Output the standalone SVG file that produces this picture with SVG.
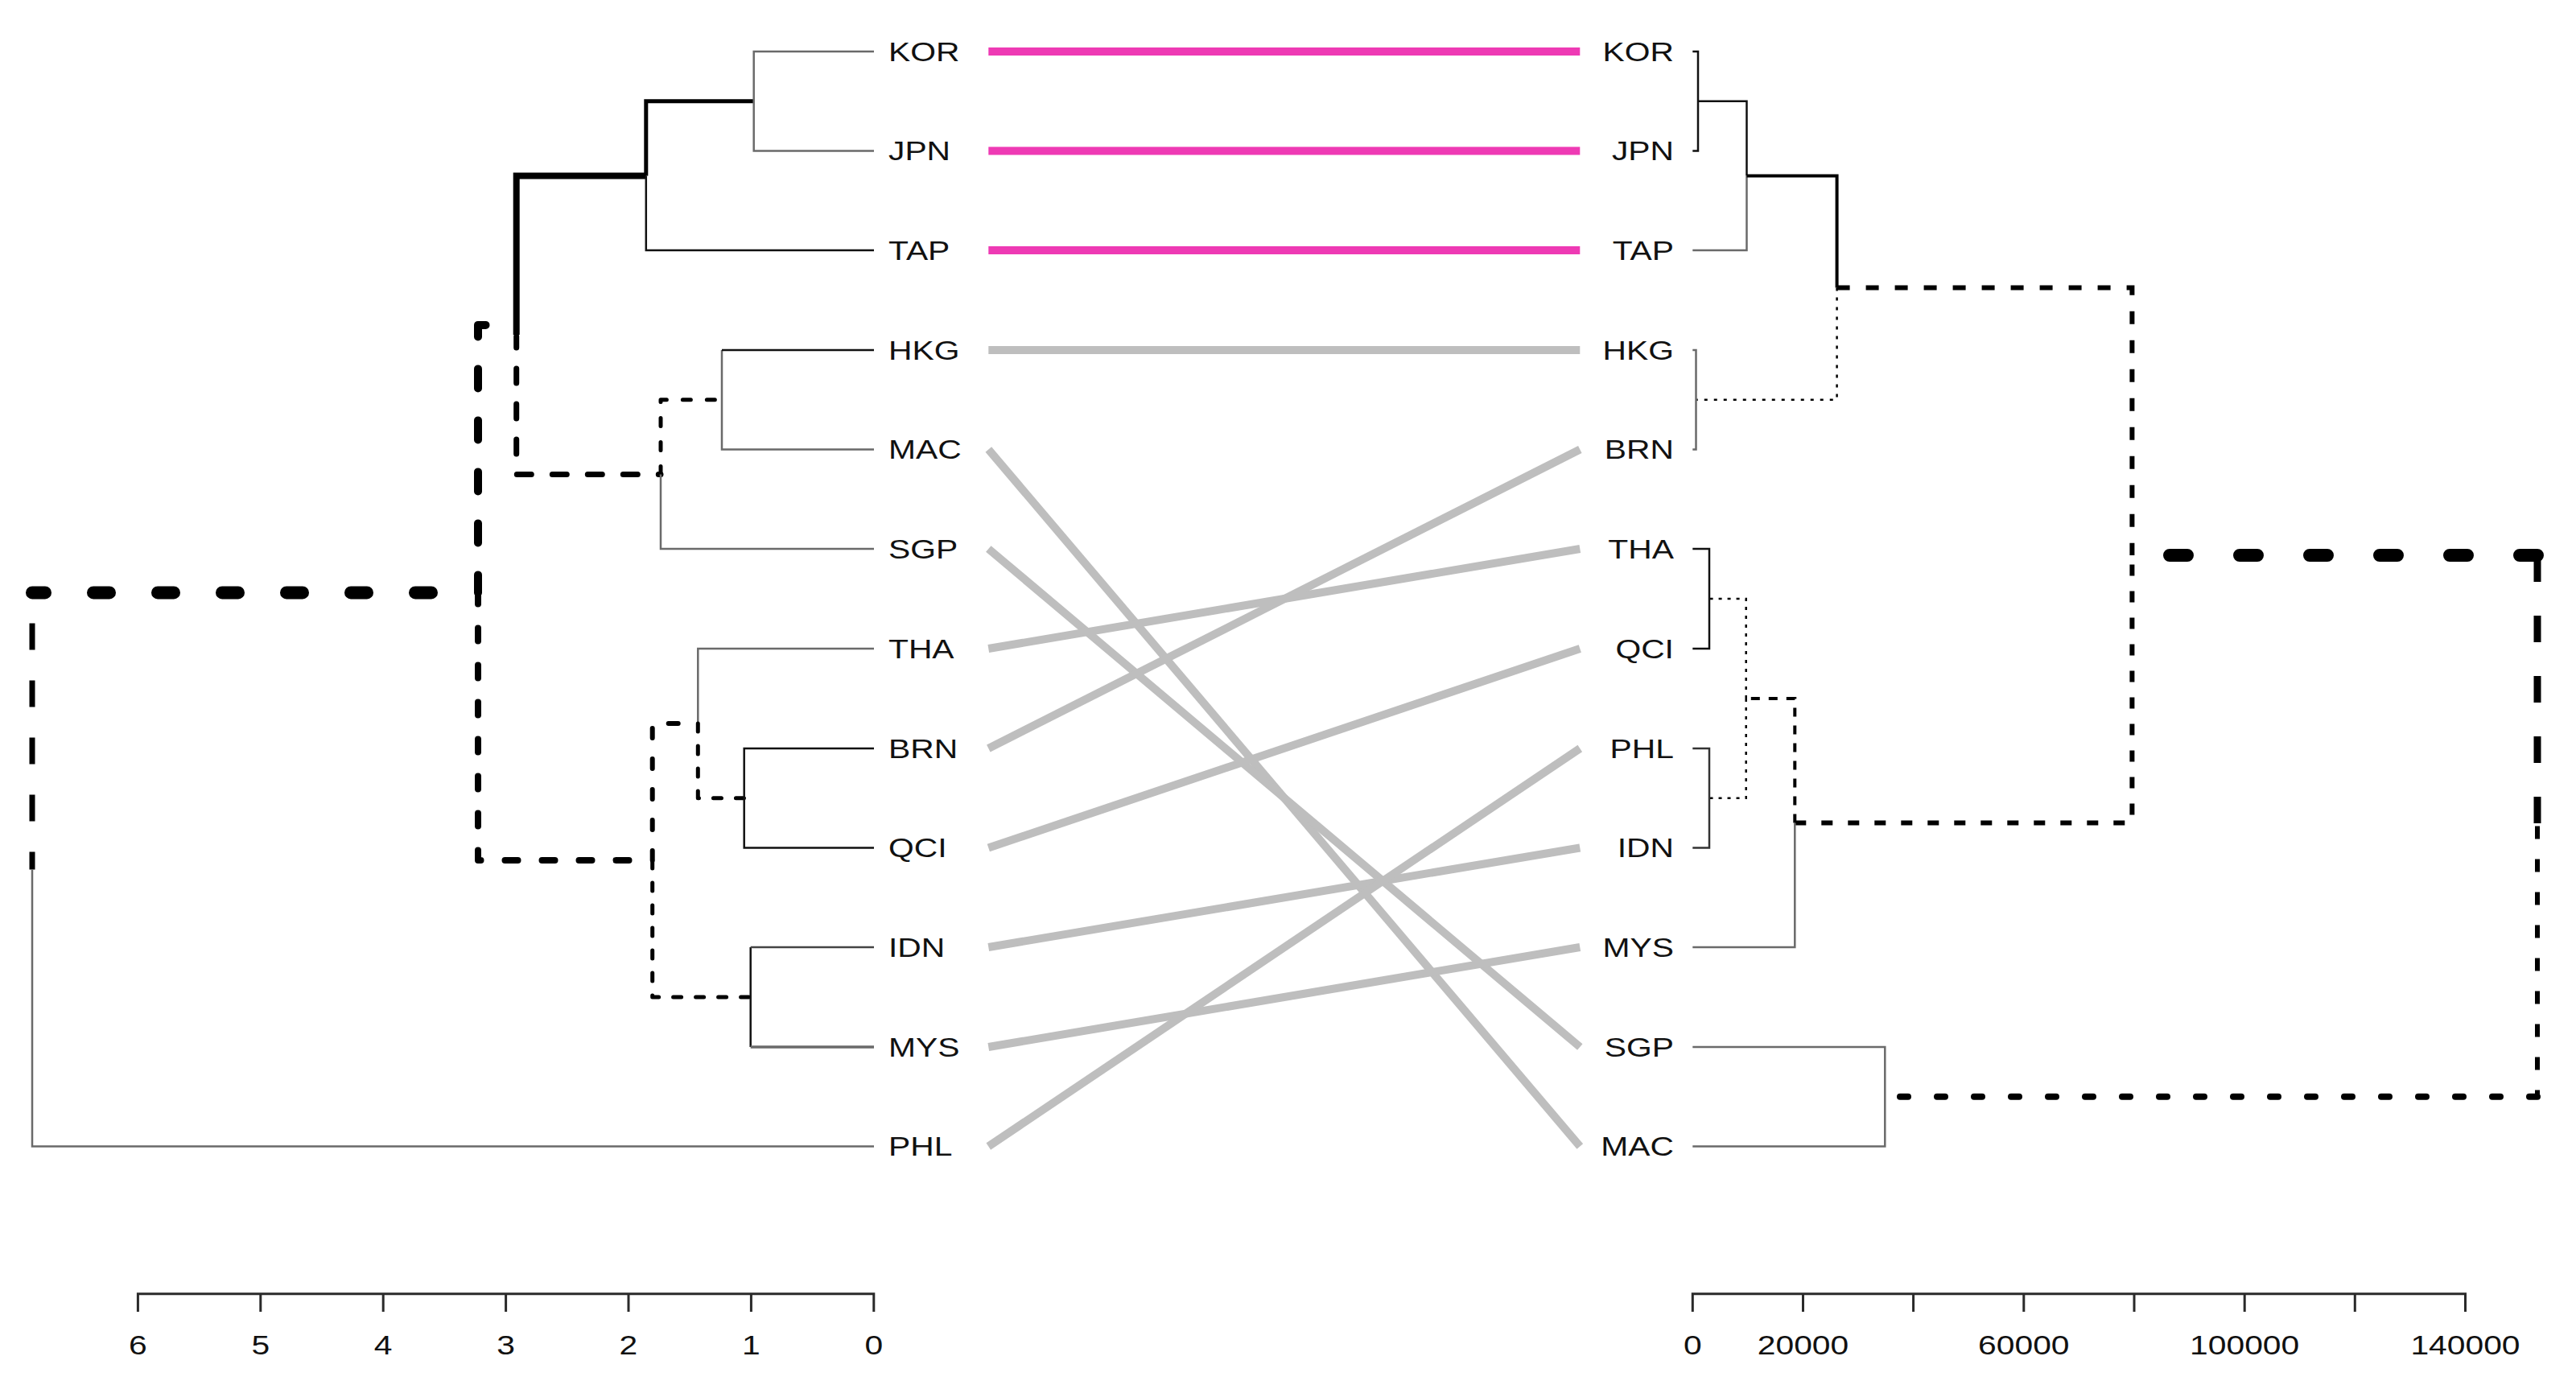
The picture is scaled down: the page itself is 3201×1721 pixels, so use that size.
<svg xmlns="http://www.w3.org/2000/svg" width="3201" height="1721" viewBox="0 0 3201 1721">
<style>
.g{fill:none;stroke:#6a6a6a;stroke-width:2.5}
.k{fill:none;stroke:#111;stroke-width:2.5}
.d{fill:none;stroke:#000;stroke-linecap:round;stroke-linejoin:round}
.b{fill:none;stroke:#000;stroke-linecap:butt}
.tl{stroke-width:10;fill:none;stroke-linecap:butt}
.pk{stroke:#EE3AB4}
.gy{stroke:#BEBEBE}
.ax{fill:none;stroke:#2a2a2a;stroke-width:3}
text{font-family:"Liberation Sans",Arial,Helvetica,sans-serif;font-size:34px;fill:#111}
.e{text-anchor:end}
.m{text-anchor:middle}
</style>
<rect width="3201" height="1721" fill="#fff"/>

<g id="left-tree">
<path class="d" d="M40,736.4 H594" stroke-width="16" stroke-dasharray="20 60" stroke-dashoffset="4"/>
<path class="b" d="M40,736.4 V1080.5" stroke-width="7" stroke-dasharray="33 38" stroke-dashoffset="33"/>
<path class="g" d="M40,1080.5 V1424.5 H1086"/>
<path class="d" d="M594,736.4 V403.9 H641.7" stroke-width="10" stroke-dasharray="24 40" stroke-dashoffset="2"/>
<path class="d" d="M594,736.4 V1068.9 H810.7" stroke-width="8" stroke-dasharray="16 30" stroke-dashoffset="2"/>
<path fill="none" stroke="#000" stroke-width="8" d="M641.7,416 V218.4 H802.8"/>
<path class="d" d="M641.7,418 V589.4 H821" stroke-width="7" stroke-dasharray="18 26" stroke-dashoffset="4"/>
<path fill="none" stroke="#000" stroke-width="5" d="M802.8,218.4 V125.75 H936.7"/>
<path class="k" d="M802.8,218.4 V311 H1086"/>
<path class="g" d="M1086,64 H936.7 V187.5 H1086"/>
<path class="d" d="M821,589.4 V496.75 H897" stroke-width="5" stroke-dasharray="10 20"/>
<path class="g" d="M821,589.4 V682 H1086"/>
<path class="g" d="M1086,558.5 H897 V435"/>
<path class="k" d="M897,435 H1086"/>
<path class="d" d="M810.7,1068.9 V898.9 H867.3" stroke-width="6" stroke-dasharray="12 26"/>
<path class="d" d="M810.7,1068.9 V1239 H932.7" stroke-width="5" stroke-dasharray="10 18"/>
<path class="g" d="M867.3,898.9 V806 H1086"/>
<path class="d" d="M867.3,898.9 V991.75 H924.7" stroke-width="5" stroke-dasharray="10 18"/>
<path class="k" d="M1086,930 H924.7 V1053.5 H1086"/>
<path class="k" d="M932.7,1177 V1301"/>
<path fill="none" stroke="#444" stroke-width="2.5" d="M932.7,1177 H1086"/>
<path fill="none" stroke="#6a6a6a" stroke-width="3.5" d="M932.7,1301 H1086"/>
</g>

<g id="right-tree">
<path class="k" d="M2103.3,64 H2110 V187.5 H2103.3"/>
<path class="k" d="M2110,125.75 H2170.5 V218.4"/>
<path class="g" d="M2170.5,218.4 V311 H2103.3"/>
<path fill="none" stroke="#000" stroke-width="4" d="M2170.5,218.4 H2282.6 V357.6"/>
<path class="b" d="M2282.6,357.6 V496.75 H2107.5" stroke-width="2.5" stroke-dasharray="4 8"/>
<path class="g" d="M2103.3,435 H2107.5 V558.5 H2103.3" stroke-width="3"/>
<path class="b" d="M2282.6,357.6 H2649.4 V690" stroke-width="6" stroke-dasharray="16 20"/>
<path class="b" d="M2230.3,1022.4 H2649.4 V690" stroke-width="6" stroke-dasharray="14 19"/>
<path class="d" d="M2649.4,690 H3153" stroke-width="16" stroke-dasharray="22 65" stroke-dashoffset="40.4"/>
<path class="b" d="M3153,690 V1026.4" stroke-width="9" stroke-dasharray="33 42"/>
<path class="b" d="M3153,1026.4 V1362.75" stroke-width="6" stroke-dasharray="16 25"/>
<path class="d" d="M3153,1362.75 H2342.3" stroke-width="8" stroke-dasharray="10 36"/>
<path class="g" d="M2103.3,1301 H2342.3 V1424.5 H2103.3" stroke-width="3.5"/>
<path class="b" d="M2230.3,1022.4 V867.9 H2169.7" stroke-width="4" stroke-dasharray="11 11"/>
<path class="g" d="M2230.3,1022.4 V1177 H2103.3" stroke-width="3"/>
<path class="b" d="M2169.7,867.9 V744 H2124" stroke-width="2.5" stroke-dasharray="4 7"/>
<path class="b" d="M2169.7,867.9 V991.75 H2124" stroke-width="2.5" stroke-dasharray="4 7"/>
<path class="k" d="M2103.3,682 H2124 V806 H2103.3"/>
<path fill="none" stroke="#333" stroke-width="2.5" d="M2103.3,930 H2124 V1053.5 H2103.3"/>
</g>

<g id="connectors">
<line class="tl pk" x1="1228.3" y1="64" x2="1963.3" y2="64"/>
<line class="tl pk" x1="1228.3" y1="187.5" x2="1963.3" y2="187.5"/>
<line class="tl pk" x1="1228.3" y1="311" x2="1963.3" y2="311"/>
<line class="tl gy" x1="1228.3" y1="435" x2="1963.3" y2="435"/>
<line class="tl gy" x1="1228.3" y1="558.5" x2="1963.3" y2="1424.5"/>
<line class="tl gy" x1="1228.3" y1="682" x2="1963.3" y2="1301"/>
<line class="tl gy" x1="1228.3" y1="806" x2="1963.3" y2="682"/>
<line class="tl gy" x1="1228.3" y1="930" x2="1963.3" y2="558.5"/>
<line class="tl gy" x1="1228.3" y1="1053.5" x2="1963.3" y2="806"/>
<line class="tl gy" x1="1228.3" y1="1177" x2="1963.3" y2="1053.5"/>
<line class="tl gy" x1="1228.3" y1="1301" x2="1963.3" y2="1177"/>
<line class="tl gy" x1="1228.3" y1="1424.5" x2="1963.3" y2="930"/>
</g>

<g id="axes">
<path class="ax" d="M171.4,1607.7 H1085.8 M171.4,1606.2 V1630 M323.8,1606.2 V1630 M476.2,1606.2 V1630 M628.6,1606.2 V1630 M781,1606.2 V1630 M933.4,1606.2 V1630 M1085.8,1606.2 V1630"/>
<path class="ax" d="M2103.3,1607.7 H3063.5 M2103.3,1606.2 V1630 M2240.5,1606.2 V1630 M2377.6,1606.2 V1630 M2514.8,1606.2 V1630 M2652,1606.2 V1630 M2789.2,1606.2 V1630 M2926.3,1606.2 V1630 M3063.5,1606.2 V1630"/>
</g>

<g transform="scale(1.2 1)">
<g id="left-labels">
<g id="L-KOR"><text x="920" y="76">KOR</text></g>
<g id="L-JPN"><text x="920" y="199.5">JPN</text></g>
<g id="L-TAP"><text x="920" y="323">TAP</text></g>
<g id="L-HKG"><text x="920" y="447">HKG</text></g>
<g id="L-MAC"><text x="920" y="570.5">MAC</text></g>
<g id="L-SGP"><text x="920" y="694">SGP</text></g>
<g id="L-THA"><text x="920" y="818">THA</text></g>
<g id="L-BRN"><text x="920" y="942">BRN</text></g>
<g id="L-QCI"><text x="920" y="1065.5">QCI</text></g>
<g id="L-IDN"><text x="920" y="1189">IDN</text></g>
<g id="L-MYS"><text x="920" y="1313">MYS</text></g>
<g id="L-PHL"><text x="920" y="1436.5">PHL</text></g>
</g>
<g id="right-labels">
<g id="R-KOR"><text class="e" x="1733.3" y="76">KOR</text></g>
<g id="R-JPN"><text class="e" x="1733.3" y="199.5">JPN</text></g>
<g id="R-TAP"><text class="e" x="1733.3" y="323">TAP</text></g>
<g id="R-HKG"><text class="e" x="1733.3" y="447">HKG</text></g>
<g id="R-BRN"><text class="e" x="1733.3" y="570.5">BRN</text></g>
<g id="R-THA"><text class="e" x="1733.3" y="694">THA</text></g>
<g id="R-QCI"><text class="e" x="1733.3" y="818">QCI</text></g>
<g id="R-PHL"><text class="e" x="1733.3" y="942">PHL</text></g>
<g id="R-IDN"><text class="e" x="1733.3" y="1065.5">IDN</text></g>
<g id="R-MYS"><text class="e" x="1733.3" y="1189">MYS</text></g>
<g id="R-SGP"><text class="e" x="1733.3" y="1313">SGP</text></g>
<g id="R-MAC"><text class="e" x="1733.3" y="1436.5">MAC</text></g>
</g>
<g id="axis-labels">
<text class="m" x="142.8" y="1683">6</text>
<text class="m" x="269.8" y="1683">5</text>
<text class="m" x="396.8" y="1683">4</text>
<text class="m" x="523.8" y="1683">3</text>
<text class="m" x="650.8" y="1683">2</text>
<text class="m" x="777.8" y="1683">1</text>
<text class="m" x="904.8" y="1683">0</text>
<text class="m" x="1752.75" y="1683">0</text>
<text class="m" x="1867.1" y="1683">20000</text>
<text class="m" x="2095.7" y="1683">60000</text>
<text class="m" x="2324.3" y="1683">100000</text>
<text class="m" x="2552.9" y="1683">140000</text>
</g>
</g>
</svg>
